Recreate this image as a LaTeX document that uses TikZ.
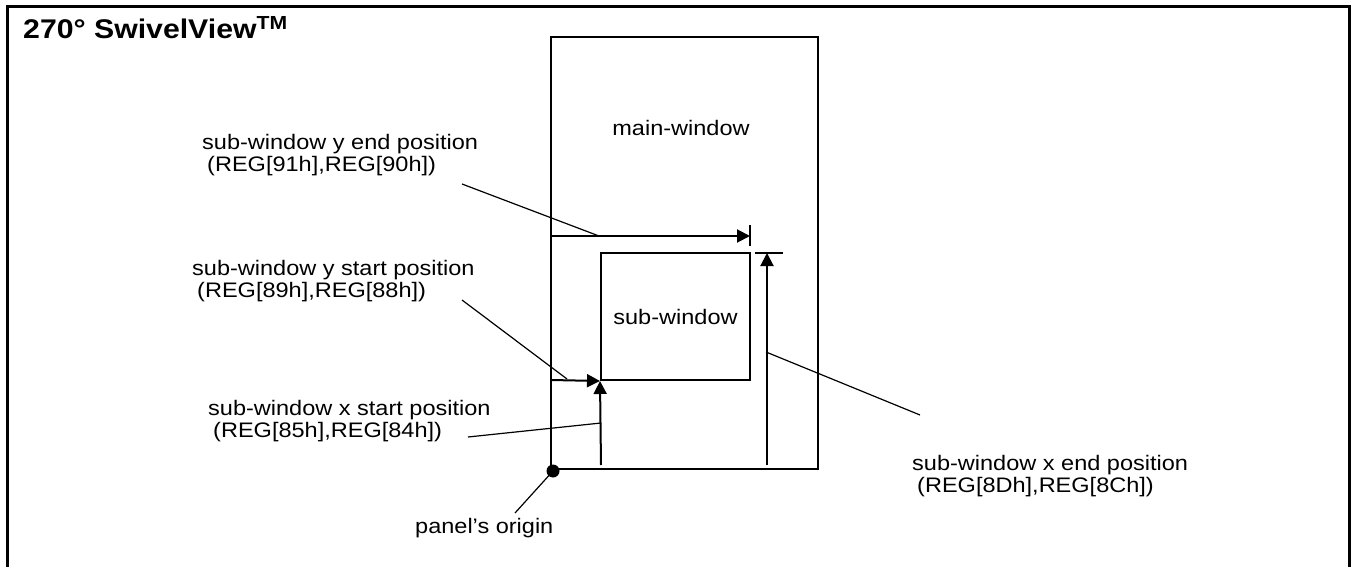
\documentclass[tikz,border=0pt]{standalone}
\usepackage{fontspec}
\setmainfont{Liberation Sans}[FakeStretch=1.12]
\usetikzlibrary{arrows.meta}

\begin{document}
\begin{tikzpicture}[x=1pt,y=-1pt,
    wline/.style={line width=2pt},
    lead/.style={line width=1.2pt},
    dim/.style={line width=2pt,-{Triangle[length=13pt,width=13pt]}},
    lbl/.style={font=\fontsize{21}{22}\selectfont,align=left,inner sep=0pt,anchor=west}]
  \useasboundingbox (0,0) rectangle (1353,567);
  % outer frame
  \draw[line width=3pt] (7,567) -- (7,7) -- (1349,7) -- (1349,567);
  \node[anchor=base west,inner sep=0pt,font=\bfseries\fontsize{27}{29}\selectfont] (title) at (23,39) {270° SwivelView\textsuperscript{TM}};
  % main-window
  \coordinate (mwtl) at (551,37);
  \coordinate (mwbr) at (818,469);
  \draw[wline] (mwtl) rectangle (mwbr);
  \node[font=\fontsize{21}{22}\selectfont] (mwtxt) at (681,128) {main-window};
  % sub-window
  \node[draw,wline,minimum width=149pt,minimum height=127pt,inner sep=0pt,
        font=\fontsize{21}{22}\selectfont] (sub) at (675.5,316.5) {sub-window};
  % y end
  \coordinate (yendL) at (551,236);
  \coordinate (yend) at (750,236);
  \draw[dim] (yendL) -- (yend);
  \draw[wline] ([yshift=11pt]yend) -- ([yshift=-10pt]yend);
  % x end
  \coordinate (xendB) at (767,465);
  \coordinate (xendT) at (767,253);
  \draw[dim] (xendB) -- (xendT);
  \draw[wline] ([xshift=-12pt]xendT) -- ([xshift=16pt]xendT);
  % y start, x start
  \coordinate (ystartL) at (551,380);
  \coordinate (xstartB) at (601,465);
  \draw[dim] (ystartL) -- (sub.south west);
  \draw[dim] (xstartB) -- (sub.south west);
  % panel's origin
  \coordinate (origin) at (553,471);
  \fill (origin) circle (6.5pt);
  % labels
  \node[lbl] (lyend) at (202,155) {sub-window y end position\\\hspace*{5pt}(REG[91h],REG[90h])};
  \node[lbl] (lystart) at (192,281) {sub-window y start position\\\hspace*{5pt}(REG[89h],REG[88h])};
  \node[lbl] (lxstart) at (208,421) {sub-window x start position\\\hspace*{5pt}(REG[85h],REG[84h])};
  \node[lbl] (lxend) at (912,476) {sub-window x end position\\\hspace*{5pt}(REG[8Dh],REG[8Ch])};
  \node[lbl] (lorigin) at (415,528) {panel’s origin};
  % leader lines
  \coordinate (ayend) at (462,184);
  \coordinate (aystart) at (462,300);
  \coordinate (axstart) at (468,437);
  \coordinate (axend) at (920,415);
  \coordinate (aorigin) at (515,513);
  \draw[lead] (ayend) -- (599,236);
  \draw[lead] (aystart) -- (567,379);
  \draw[lead] (axstart) -- (601,423);
  \draw[lead] (axend) -- (766,352);
  \draw[lead] (aorigin) -- (origin);
\end{tikzpicture}
\end{document}
